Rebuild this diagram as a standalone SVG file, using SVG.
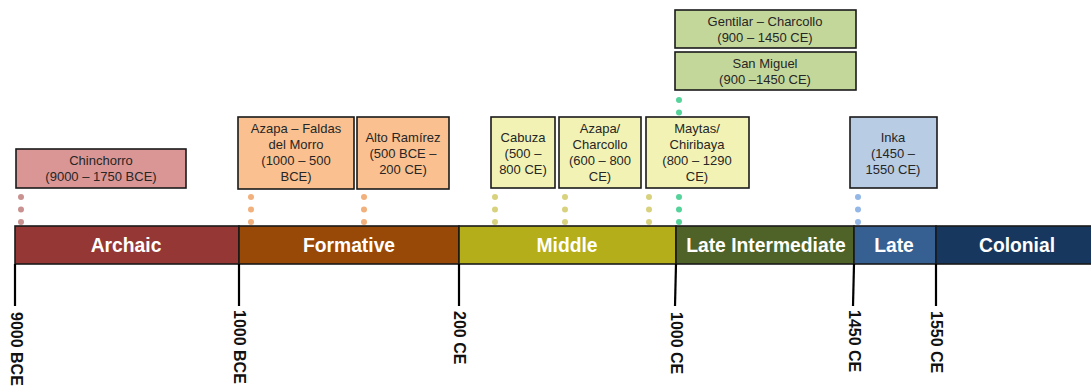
<svg xmlns="http://www.w3.org/2000/svg" width="1091" height="390" viewBox="0 0 1091 390">
<style>
.box{stroke:#1a1a1a;stroke-width:1.6}
.bt{font-family:"Liberation Sans",Arial,sans-serif;font-size:13px;fill:#262626;text-anchor:middle}
.seg{stroke:#1a1a1a;stroke-width:1.6}
.st{font-family:"Liberation Sans",Arial,sans-serif;font-size:19.3px;font-weight:bold;fill:#ffffff;text-anchor:middle}
.tick{stroke:#000;stroke-width:2.2}
.tl{font-family:"Liberation Sans",Arial,sans-serif;font-size:16px;font-weight:bold;fill:#111}
.d1{fill:#C99290}.d2{fill:#F2B07C}.d3{fill:#D8D27E}.d4{fill:#55D39A}.d5{fill:#93B7E6}
</style>
<defs>
<g id="dots"><circle cx="0" cy="197" r="3"/><circle cx="0" cy="209.5" r="3"/><circle cx="0" cy="222" r="3"/></g>
</defs>
<rect width="1091" height="390" fill="#ffffff"/>
<g id="connectors">
<use href="#dots" x="21" class="d1"/>
<use href="#dots" x="251" class="d2"/>
<use href="#dots" x="364" class="d2"/>
<use href="#dots" x="495" class="d3"/>
<use href="#dots" x="565" class="d3"/>
<use href="#dots" x="649" class="d3"/>
<use href="#dots" x="679" class="d4"/>
<circle cx="679" cy="100" r="3" class="d4"/>
<circle cx="679" cy="112.5" r="3" class="d4"/>
<use href="#dots" x="858" class="d5"/>
</g>
<g id="timeline">
<rect class="seg" x="15" y="226" width="224" height="38" fill="#953735"/>
<rect class="seg" x="239" y="226" width="220" height="38" fill="#984807"/>
<rect class="seg" x="459" y="226" width="217" height="38" fill="#B3AE1A"/>
<rect class="seg" x="676" y="226" width="178" height="38" fill="#4F6228"/>
<rect class="seg" x="854" y="226" width="82" height="38" fill="#366092"/>
<rect class="seg" x="936" y="226" width="160" height="38" fill="#17375E"/>
<text class="st" x="126" y="252">Archaic</text>
<text class="st" x="349" y="252">Formative</text>
<text class="st" x="567" y="252">Middle</text>
<text class="st" x="766" y="252">Late Intermediate</text>
<text class="st" x="894" y="252">Late</text>
<text class="st" x="1017" y="252">Colonial</text>
</g>
<g id="ticks">
<line class="tick" x1="15" y1="264" x2="15" y2="306"/>
<line class="tick" x1="239" y1="264" x2="239" y2="306"/>
<line class="tick" x1="459" y1="264" x2="459" y2="306"/>
<line class="tick" x1="676" y1="264" x2="675" y2="306"/>
<line class="tick" x1="854" y1="264" x2="853" y2="306"/>
<line class="tick" x1="936" y1="264" x2="936" y2="306"/>
<text class="tl" transform="translate(10.5,312) rotate(90)">9000 BCE</text>
<text class="tl" transform="translate(234,310) rotate(90)">1000 BCE</text>
<text class="tl" transform="translate(454,311) rotate(90)">200 CE</text>
<text class="tl" transform="translate(670.5,312) rotate(90)">1000 CE</text>
<text class="tl" transform="translate(848.5,310) rotate(90)">1450 CE</text>
<text class="tl" transform="translate(931,311) rotate(90)">1550 CE</text>
</g>
<g id="chinchorro">
<rect class="box" x="16" y="149" width="170" height="39" fill="#DA9694"/>
<text class="bt" x="101" y="165">Chinchorro</text>
<text class="bt" x="101" y="181">(9000 – 1750 BCE)</text>
</g>
<g id="azapa-faldas">
<rect class="box" x="238" y="117" width="116" height="72" fill="#FAC090"/>
<text class="bt" x="296" y="133">Azapa – Faldas</text>
<text class="bt" x="296" y="149">del Morro</text>
<text class="bt" x="296" y="165">(1000 – 500</text>
<text class="bt" x="296" y="181">BCE)</text>
</g>
<g id="alto-ramirez">
<rect class="box" x="357" y="117" width="92" height="72" fill="#FAC090"/>
<text class="bt" x="403" y="142">Alto Ramírez</text>
<text class="bt" x="403" y="158">(500 BCE –</text>
<text class="bt" x="403" y="174">200 CE)</text>
</g>
<g id="cabuza">
<rect class="box" x="491" y="117" width="64" height="71" fill="#F2F2B4"/>
<text class="bt" x="523" y="142">Cabuza</text>
<text class="bt" x="523" y="158">(500 –</text>
<text class="bt" x="523" y="174">800 CE)</text>
</g>
<g id="azapa-charcollo">
<rect class="box" x="559" y="117" width="82" height="71" fill="#F2F2B4"/>
<text class="bt" x="600" y="133">Azapa/</text>
<text class="bt" x="600" y="149">Charcollo</text>
<text class="bt" x="600" y="165">(600 – 800</text>
<text class="bt" x="600" y="181">CE)</text>
</g>
<g id="maytas">
<rect class="box" x="646" y="117" width="103" height="71" fill="#F2F2B4"/>
<text class="bt" x="697" y="133">Maytas/</text>
<text class="bt" x="697" y="149">Chiribaya</text>
<text class="bt" x="697" y="165">(800 – 1290</text>
<text class="bt" x="697" y="181">CE)</text>
</g>
<g id="gentilar">
<rect class="box" x="675" y="10" width="181" height="38" fill="#C4D79B"/>
<text class="bt" x="765" y="26">Gentilar – Charcollo</text>
<text class="bt" x="765" y="42">(900 – 1450 CE)</text>
</g>
<g id="san-miguel">
<rect class="box" x="675" y="52" width="181" height="38" fill="#C4D79B"/>
<text class="bt" x="765" y="68">San Miguel</text>
<text class="bt" x="765" y="84">(900 –1450 CE)</text>
</g>
<g id="inka">
<rect class="box" x="850" y="117" width="87" height="71" fill="#B8CCE4"/>
<text class="bt" x="893" y="142">Inka</text>
<text class="bt" x="893" y="158">(1450 –</text>
<text class="bt" x="893" y="174">1550 CE)</text>
</g>
</svg>
